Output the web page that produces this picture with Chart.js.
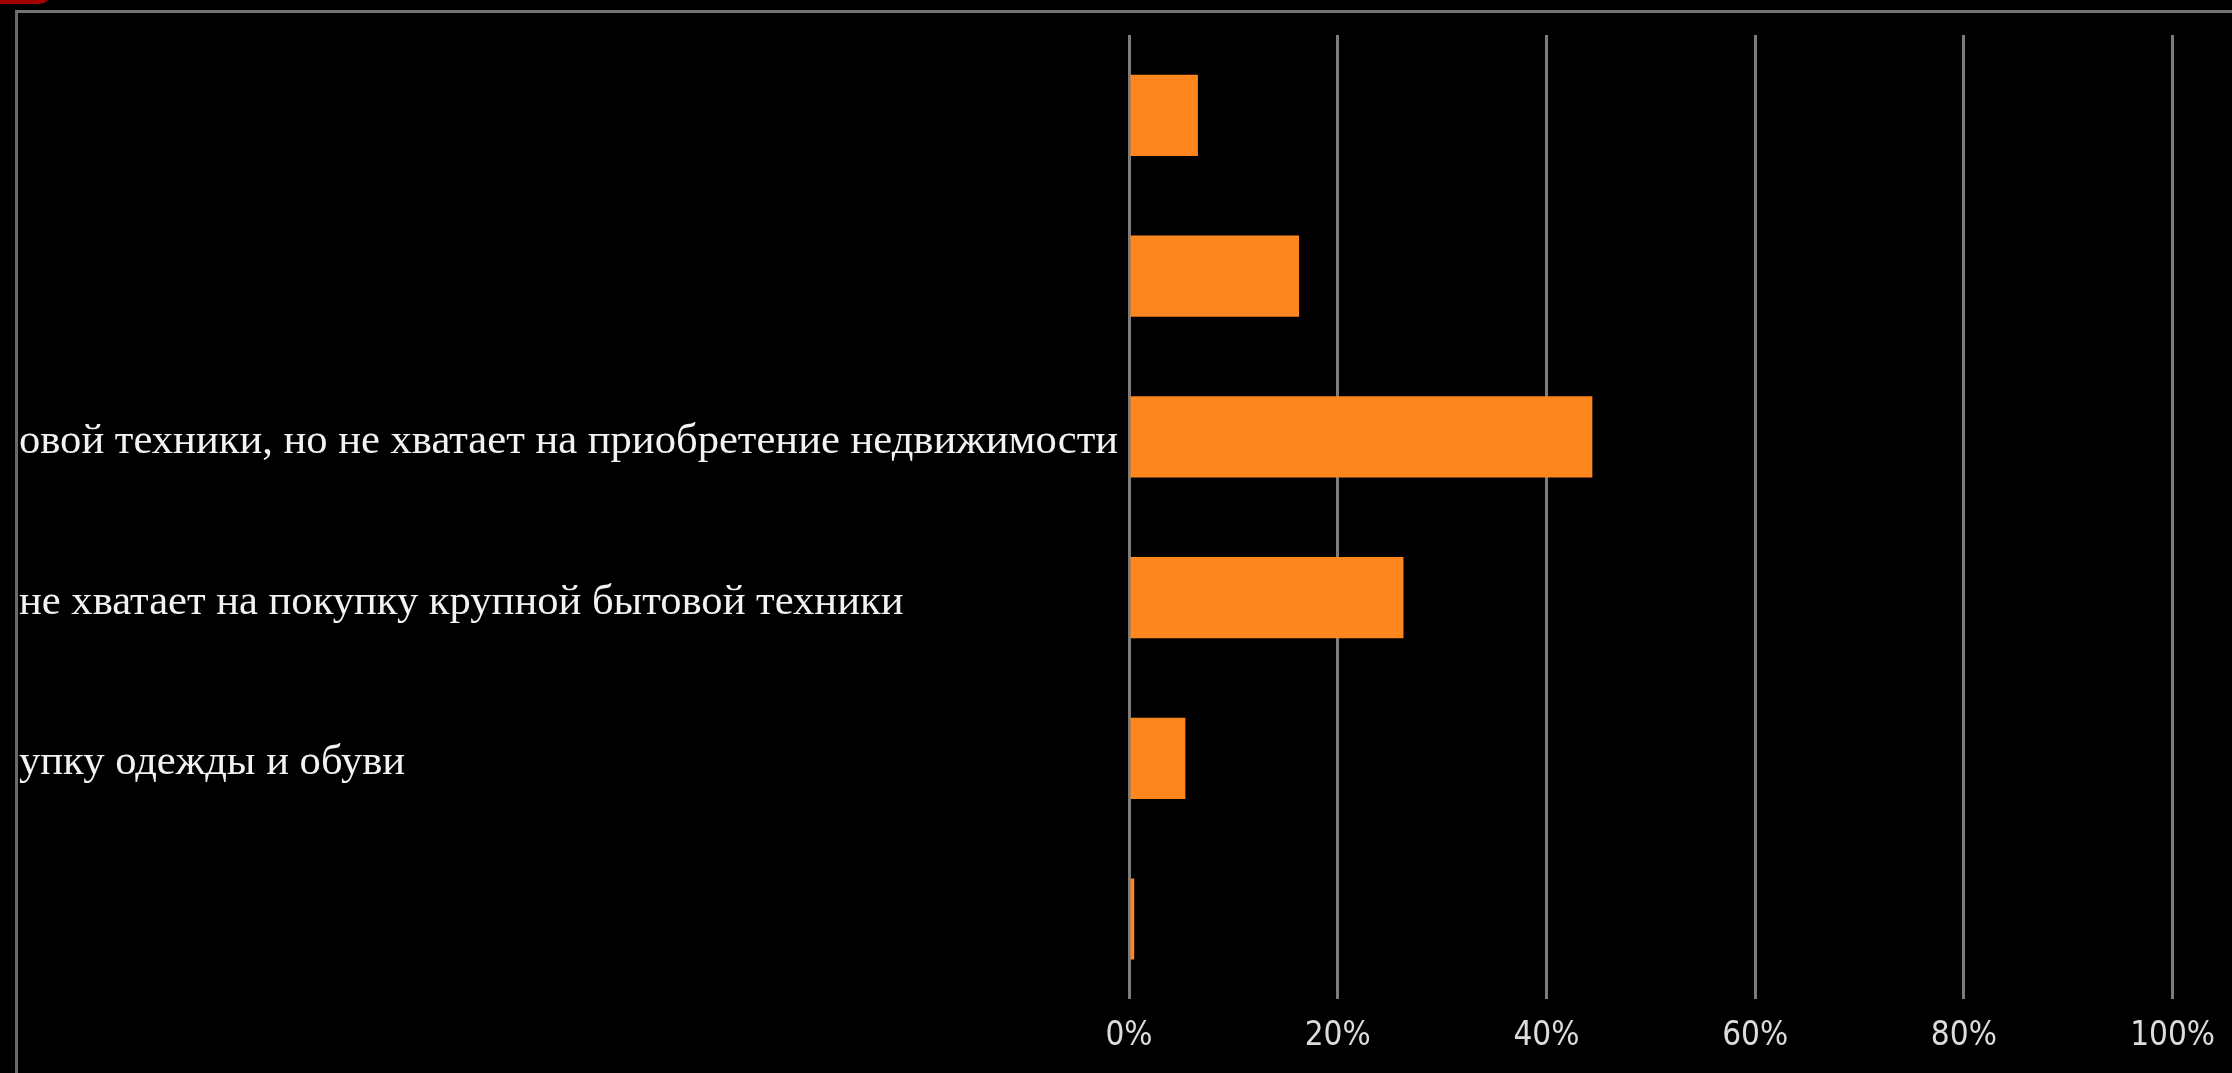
<!DOCTYPE html>
<html>
<head>
<meta charset="utf-8">
<script src="https://cdn.jsdelivr.net/npm/chart.js@4.4.1/dist/chart.umd.min.js"></script>
<style>
    body { margin: 0; background: #000; overflow: hidden; }
    .chart-wrap { position: absolute; left: 0; top: 0; width: 2232px; height: 1073px; }
    .frame {
        position: absolute; left: 15px; top: 10px; width: 2300px; height: 1200px;
        border-left: 3px solid #6a6a6a; border-top: 3px solid #737373;
        pointer-events: none;
    }
    .red-mark {
        position: absolute; left: -20px; top: -6px; width: 70px; height: 10px;
        background: #a00000; border-radius: 0 0 60px 0;
    }
</style>
</head>
<body>
<div class="red-mark"></div>
<div class="chart-wrap"><canvas id="myChart"></canvas></div>
<div class="frame"></div>
<script>
// visible parts of the category labels (the rest is cut off by the frame)
var labels = [
    '',
    '',
    'овой техники, но не хватает на приобретение недвижимости',
    'не хватает на покупку крупной бытовой техники',
    'упку одежды и обуви',
    ''
];
var shares = [6.6, 16.3, 44.4, 26.3, 5.4, 0.5];
var xTicks = [0, 20, 40, 60, 80, 100];

const data = {
    labels: labels,
    datasets: [{
        data: shares,
        backgroundColor: '#fd861f',
        borderWidth: 0,
        barPercentage: 0.505,
        categoryPercentage: 1
    }]
};

const config = {
    type: 'bar',
    data: data,
    options: {
        indexAxis: 'y',
        responsive: true,
        maintainAspectRatio: false,
        animation: false,
        layout: {
            padding: { left: 19, right: 59, top: 35, bottom: 0 }
        },
        plugins: {
            legend: { display: false },
            tooltip: { enabled: false }
        },
        scales: {
            x: {
                min: 0,
                max: 100,
                afterBuildTicks: (scale) => {
                    scale.ticks = xTicks.map(v => ({ value: v }));
                },
                grid: { color: '#7c7c7c', lineWidth: 3, drawTicks: false },
                border: { display: false },
                ticks: {
                    padding: 17,
                    color: '#dcdcdc',
                    font: { family: 'DejaVu Sans Condensed', size: 33 },
                    callback: (v) => v + '%'
                }
            },
            y: {
                grid: { display: false },
                border: { display: false },
                afterFit: (scale) => { scale.width = 1110; },
                ticks: {
                    crossAlign: 'far',
                    labelOffset: 5,
                    color: '#f2f2f2',
                    autoSkip: false,
                    font: { family: 'Liberation Serif', size: 42.6 }
                }
            }
        }
    }
};

var myChart = new Chart(document.getElementById('myChart'), config);
</script>
</body>
</html>
